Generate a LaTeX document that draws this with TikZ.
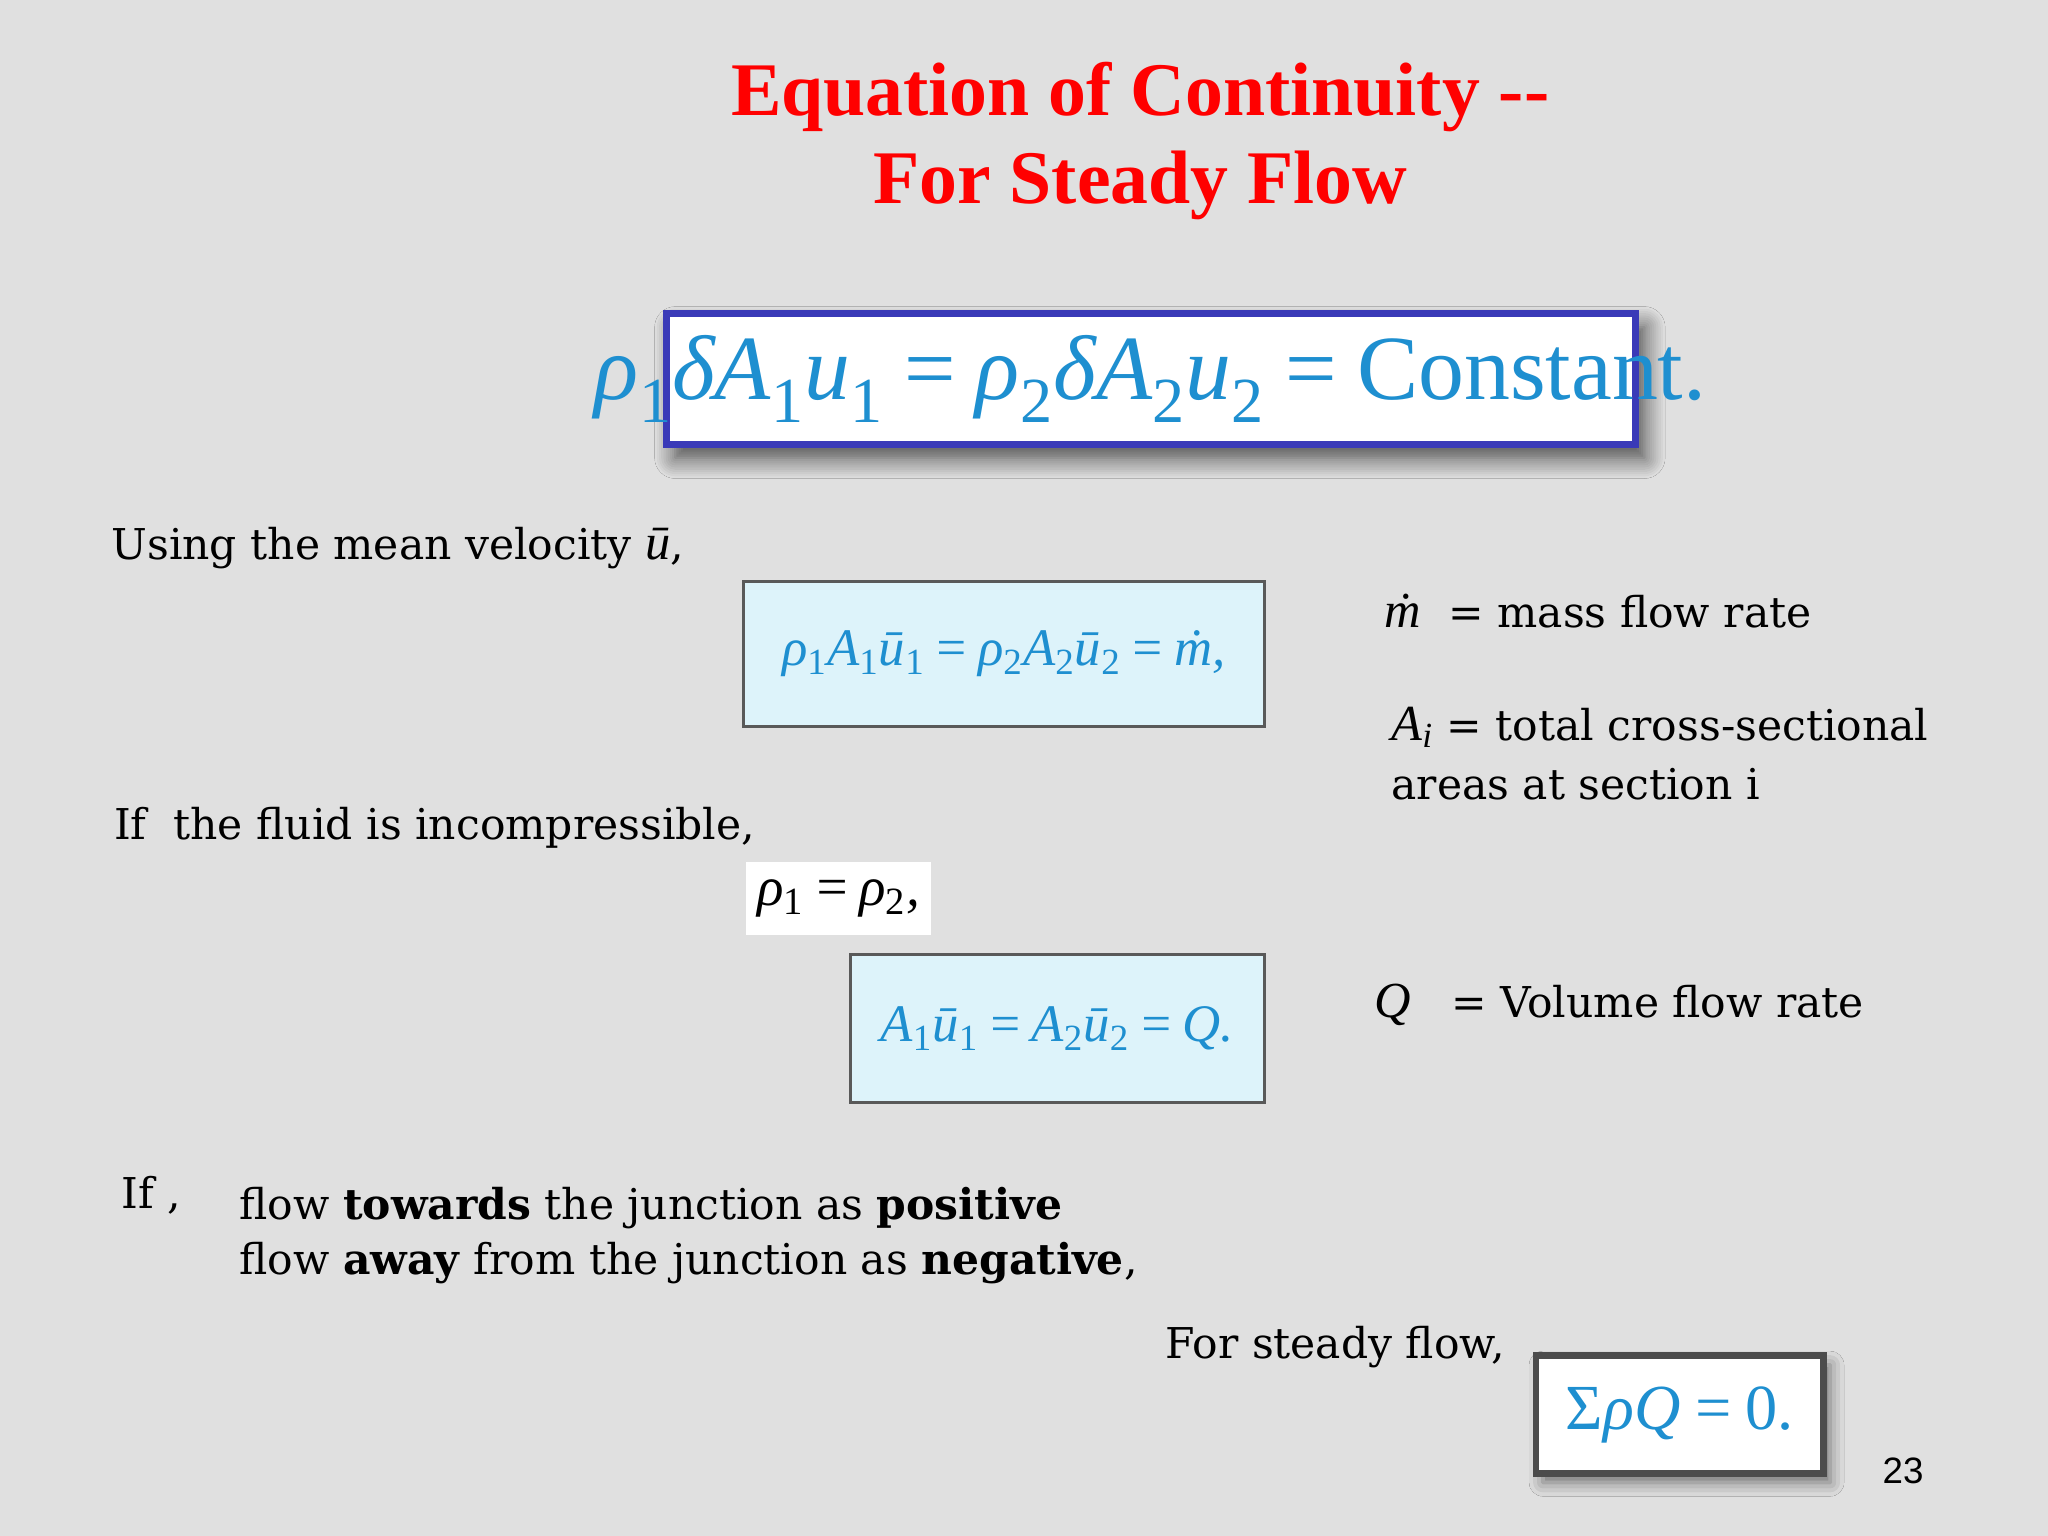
\documentclass[tikz,border=0pt]{standalone}
\usepackage{fontspec}
\setmainfont{DejaVu Serif}
\newfontfamily\eqfont{Liberation Serif}
\newfontfamily\ttl{Liberation Serif}
\newfontfamily\numfont{Liberation Sans}
\usetikzlibrary{shadows.blur}
\definecolor{bg}{HTML}{E0E0E0}
\definecolor{eqblue}{HTML}{1E8FD0}
\definecolor{boxfill}{HTML}{DDF3FA}
\definecolor{frameblue}{HTML}{3A3AB8}
\newcommand\sbs[1]{\textsubscript{\upshape #1}}
\newcommand\eqs{\,=\,}
\tikzset{
  txt/.style={anchor=west,inner sep=0pt,font=\fontsize{18.5}{22}\selectfont},
  eqbox/.style={draw=black!65,line width=1.3pt,fill=boxfill,inner sep=0pt},
  eq/.style={text=eqblue},
}
\begin{document}
\begin{tikzpicture}[x=0.02cm,y=-0.02cm]
\useasboundingbox[fill=bg] (0,0) rectangle (1568,1176);
\node[font=\ttl\bfseries\fontsize{33}{38}\selectfont,text=red,align=center] (title) at (873,108) {Equation of Continuity --\\For Steady Flow};
% box 1
\node[draw=frameblue,line width=3pt,fill=white,minimum width=742*0.02cm,minimum height=100*0.02cm,blur shadow={shadow xshift=4pt,shadow yshift=-6pt,shadow blur steps=10,shadow blur radius=9pt,shadow opacity=70}] (b1) at (881,290) {};
\node[eq,font=\eqfont\fontsize{40}{42}\selectfont] at (b1) {\itshape ρ\sbs{1}δA\sbs{1}u\sbs{1}\eqs ρ\sbs{2}δA\sbs{2}u\sbs{2}\eqs\upshape Constant.};
\node[txt] (t1) at (85,420) {Using the mean velocity {\eqfont\itshape\fontsize{22}{24}\selectfont ū},};
% box 2
\node[eqbox,minimum width=399*0.02cm,minimum height=111*0.02cm] (b2) at (768.5,500.5) {};
\node[eq,font=\eqfont\itshape\fontsize{23}{24}\selectfont] at (b2) {ρ\sbs{1}A\sbs{1}ū\sbs{1}\eqs ρ\sbs{2}A\sbs{2}ū\sbs{2}\eqs\.{m},};
\node[txt] (m) at (1060,468) {{\eqfont\itshape\fontsize{22}{24}\selectfont\.{m}}\ \ = mass flow rate};
\node[txt,align=left] (a) at (1065,577) {{\eqfont\itshape\fontsize{22}{24}\selectfont A\textsubscript{i}} = total cross-sectional\\[4pt]areas at section i};
\node[txt] (t2) at (87,634) {If\ \ the fluid is incompressible,};
\node[fill=white,minimum width=142*0.02cm,minimum height=56*0.02cm,inner sep=0pt] (r) at (642,688) {\eqfont\itshape\fontsize{24}{26}\selectfont ρ\sbs{1}\eqs ρ\sbs{2},};
% box 3
\node[eqbox,minimum width=317*0.02cm,minimum height=113*0.02cm] (b3) at (809.5,787.5) {};
\node[eq,font=\eqfont\itshape\fontsize{23}{24}\selectfont] at (b3) {A\sbs{1}ū\sbs{1}\eqs A\sbs{2}ū\sbs{2}\eqs Q.};
\node[txt] (q) at (1052,769) {{\eqfont\itshape\fontsize{22}{24}\selectfont Q}\ \ \ = Volume flow rate};
\node[txt] (if) at (93,915) {If ,};
\node[txt,align=left] (fl) at (183,946) {flow \textbf{towards} the junction as \textbf{positive}\\[2pt]flow \textbf{away} from the junction as \textbf{negative},};
\node[txt] (sf) at (892,1031) {For steady flow,};
% box 4
\node[draw=black!70,line width=3pt,fill=white,minimum width=220*0.02cm,minimum height=90*0.02cm,blur shadow={shadow xshift=3pt,shadow yshift=-4pt,shadow blur radius=6pt,shadow opacity=50}] (b4) at (1286,1083) {};
\node[eq,font=\eqfont\itshape\fontsize{28}{30}\selectfont] at (b4) {\upshape Σ\itshape ρQ\eqs\upshape 0.};
\node[font=\numfont\fontsize{16}{18}\selectfont] (n) at (1457,1126) {23};
\end{tikzpicture}
\end{document}
